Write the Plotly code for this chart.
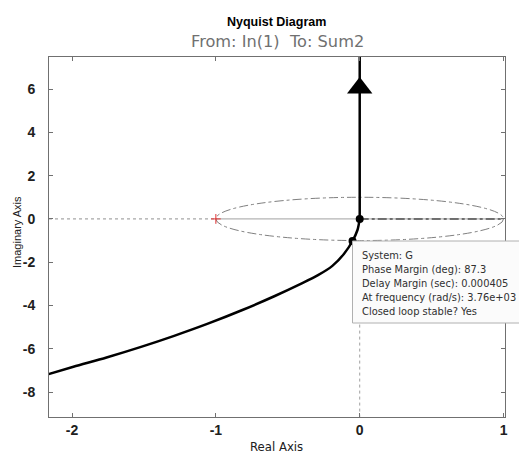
import plotly.graph_objects as go

# ---- data ----
upper_re = [0.0, 0.0, 0.0]
upper_im = [0.0, 4.0, 8.0]

lower_re = [0.0, -0.015, -0.05, -0.11, -0.19, -0.29, -0.41, -0.59, -0.82, -1.06, -1.29, -1.52, -1.76, -1.99, -2.22]
lower_im = [0.0, -0.50, -1.02, -1.62, -2.17, -2.60, -3.00, -3.56, -4.22, -4.85, -5.40, -5.91, -6.40, -6.83, -7.28]

arrow_point = [0.0, 6.05]
critical_point = [-1.0, 0.0]
margin_points_re = [0.0, -0.05]
margin_points_im = [0.0, -1.02]

x_ticks = [-2, -1, 0, 1]
y_ticks = [-8, -6, -4, -2, 0, 2, 4, 6]
x_range = [-2.16, 1.01]
y_range = [-9.15, 7.48]

tip_lines = [
    "System: G",
    "Phase Margin (deg): 87.3",
    "Delay Margin (sec): 0.000405",
    "At frequency (rad/s): 3.76e+03",
    "Closed loop stable? Yes",
]

W, H = 519, 455
L, R, T, B = 49, 14, 57, 38
pw, ph = W - L - R, H - T - B


def px(xp):
    return (xp - L) / pw


def py(yp):
    return (H - B - yp) / ph


fig = go.Figure()

# dotted real axis left of -1
fig.add_trace(go.Scatter(x=[x_range[0], critical_point[0]], y=[0, 0], mode="lines",
                         line=dict(color="#909090", width=1, dash="dot"), hoverinfo="skip"))
# solid grey from -1 to 1
fig.add_trace(go.Scatter(x=[critical_point[0], 1.0], y=[0, 0], mode="lines",
                         line=dict(color="#a0a0a0", width=1), hoverinfo="skip"))
# dash-dot from 0 to 1
fig.add_trace(go.Scatter(x=[0, 1.0], y=[0, 0], mode="lines",
                         line=dict(color="#505050", width=1.5, dash="dashdot"), hoverinfo="skip"))
# dotted vertical below the margin point
fig.add_trace(go.Scatter(x=[0, 0], y=[-1.0, y_range[0]], mode="lines",
                         line=dict(color="#a0a0a0", width=1, dash="dot"), hoverinfo="skip"))

# Nyquist curve
fig.add_trace(go.Scatter(x=upper_re, y=upper_im, mode="lines",
                         line=dict(color="black", width=2.5), hoverinfo="skip"))
fig.add_trace(go.Scatter(x=lower_re, y=lower_im, mode="lines",
                         line=dict(color="black", width=2.5, shape="spline", smoothing=0.8),
                         hoverinfo="skip"))

# arrow
fig.add_trace(go.Scatter(x=[arrow_point[0]], y=[arrow_point[1]], mode="markers",
                         marker=dict(symbol="triangle-up", size=22, color="black"), hoverinfo="skip"))

# critical point
fig.add_trace(go.Scatter(x=[critical_point[0]], y=[critical_point[1]], mode="markers",
                         marker=dict(symbol="cross-thin", size=7, line=dict(color="#e03030", width=1)),
                         hoverinfo="skip"))

# margin markers
fig.add_trace(go.Scatter(x=margin_points_re, y=margin_points_im, mode="markers",
                         marker=dict(symbol="circle", size=8, color="black"), hoverinfo="skip"))

# unit circle
fig.add_shape(type="circle", xref="x", yref="y", x0=-1, x1=1, y0=-1, y1=1,
              line=dict(color="#808080", width=1, dash="dashdot"), layer="below")

# data tip box
fig.add_shape(type="rect", xref="paper", yref="paper",
              x0=px(352.5), x1=px(540), y0=py(241), y1=py(323),
              line=dict(color="#b0b0b0", width=1), fillcolor="#fbfbfb", layer="above")
for i, line in enumerate(tip_lines):
    fig.add_annotation(x=px(360), y=py(255 + 14.2 * i), xref="paper", yref="paper",
                       xanchor="left", yanchor="middle", showarrow=False, text=line,
                       font=dict(family="DejaVu Sans", size=9.9, color="#303030"))

# titles
fig.add_annotation(x=px(276), y=py(22), xref="paper", yref="paper", xanchor="center", yanchor="middle",
                   text="<b>Nyquist Diagram</b>", showarrow=False,
                   font=dict(family="Liberation Sans, Arial", size=12.5, color="black"))
fig.add_annotation(x=px(277), y=py(42), xref="paper", yref="paper", xanchor="center", yanchor="middle",
                   text="From: In(1)  To: Sum2", showarrow=False,
                   font=dict(family="DejaVu Sans", size=16.2, color="#707070"))
fig.add_annotation(x=px(276), y=py(447), xref="paper", yref="paper", xanchor="center", yanchor="middle",
                   text="Real Axis", showarrow=False,
                   font=dict(family="DejaVu Sans", size=11.7, color="#202020"))
fig.add_annotation(x=px(17), y=py(232), xref="paper", yref="paper", xanchor="center", yanchor="middle",
                   text="Imaginary Axis", showarrow=False, textangle=-90,
                   font=dict(family="Liberation Sans, Arial", size=11, color="#202020"))

fig.update_layout(
    width=W, height=H,
    margin=dict(l=L, r=R, t=T, b=B),
    paper_bgcolor="white", plot_bgcolor="white",
    showlegend=False,
    font=dict(family="Liberation Sans, Arial"),
)

tick_font = dict(family="Liberation Sans, Arial", size=14, color="#202020", weight="bold")
fig.update_xaxes(range=x_range, tickvals=x_ticks, ticktext=[str(v) for v in x_ticks],
                 showgrid=False, zeroline=False, showline=True, linecolor="#707070", linewidth=1,
                 mirror="ticks", ticks="inside", ticklen=4, tickcolor="#707070", tickfont=tick_font)
fig.update_yaxes(range=y_range, tickvals=y_ticks, ticktext=[str(v) for v in y_ticks],
                 showgrid=False, zeroline=False, showline=True, linecolor="#707070", linewidth=1,
                 mirror="ticks", ticks="inside", ticklen=4, tickcolor="#707070", tickfont=tick_font,
                 ticklabelstandoff=10)

fig.write_html("out.html")
